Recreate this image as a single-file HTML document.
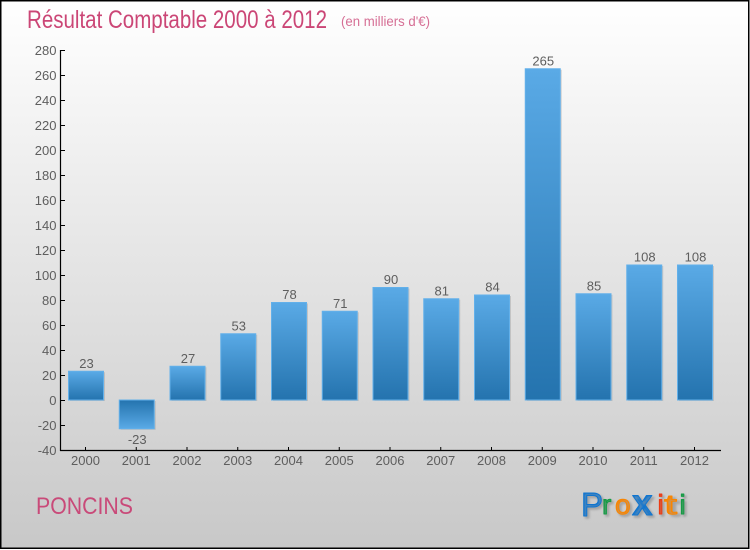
<!DOCTYPE html>
<html>
<head>
<meta charset="utf-8">
<style>
html,body{margin:0;padding:0;width:750px;height:550px;overflow:hidden}
svg{display:block}
text{font-family:"Liberation Sans","DejaVu Sans",sans-serif}
</style>
</head>
<body>
<svg id="chart" width="750" height="550" viewBox="0 0 750 550" xmlns="http://www.w3.org/2000/svg">
<defs>
<linearGradient id="bg" x1="0" y1="0" x2="0" y2="1"><stop offset="0" stop-color="#ffffff"/><stop offset="1" stop-color="#c8c8c8"/></linearGradient>
<linearGradient id="barUp" x1="0" y1="0" x2="0" y2="1"><stop offset="0" stop-color="#5aaae6"/><stop offset="1" stop-color="#2473ae"/></linearGradient>
<linearGradient id="barDown" x1="0" y1="0" x2="0" y2="1"><stop offset="0" stop-color="#2473ae"/><stop offset="1" stop-color="#5aaae6"/></linearGradient>
</defs>
<rect x="0.75" y="0.75" width="748" height="547.5" fill="url(#bg)" stroke="#000" stroke-width="1.5"/>
<text x="27" y="28" font-size="25" fill="#cb4676" textLength="300" lengthAdjust="spacingAndGlyphs">Résultat Comptable 2000 à 2012</text>
<text x="341" y="26" font-size="14" fill="#d66f95" textLength="89" lengthAdjust="spacingAndGlyphs">(en milliers d'€)</text>
<g id="plot"></g>
<text x="36" y="514" font-size="24" fill="#c94a79" textLength="97" lengthAdjust="spacingAndGlyphs">PONCINS</text>
<g style="text-shadow:2px 2px 2px #a0a0a0" stroke-width="1" stroke-linejoin="round">
<text x="581" y="516" font-size="33" fill="#0f75d0" stroke="#0f75d0">P</text>
<text x="602" y="514" font-size="28" fill="#149b44" stroke="#149b44">r</text>
<text x="615" y="514" font-size="28" fill="#f98500" stroke="#f98500">o</text>
<text x="632" y="515" font-size="37" font-weight="bold" fill="#0f75d0" stroke="#0f75d0">x</text>
<text x="657.5" y="514" font-size="28" fill="#ee3a12" stroke="#ee3a12">i</text>
<text x="664" y="514" font-size="28" fill="#f98500" stroke="#f98500" textLength="13" lengthAdjust="spacingAndGlyphs">t</text>
<text x="679.5" y="514" font-size="28" fill="#149b44" stroke="#149b44">i</text>
</g>
</svg>
<script>
var categories = ['2000','2001','2002','2003','2004','2005','2006','2007','2008','2009','2010','2011','2012'];
var values = [23,-23,27,53,78,71,90,81,84,265,85,108,108];
var valueLabels = ['23','-23','27','53','78','71','90','81','84','265','85','108','108'];
var yTicks = [280,260,240,220,200,180,160,140,120,100,80,60,40,20,0,-20,-40];

var NS = 'http://www.w3.org/2000/svg';
var plot = document.getElementById('plot');
function yScale(v){ return 400 - v * 1.25; }
function xCenter(i){ return 86 + i * 50.75; }
function make(tag, attrs, parent){
  var el = document.createElementNS(NS, tag);
  for (var k in attrs) el.setAttribute(k, attrs[k]);
  (parent || plot).appendChild(el);
  return el;
}
values.forEach(function(v, i){
  var cx = xCenter(i), top = Math.min(yScale(v), yScale(0)), h = Math.abs(yScale(v) - yScale(0));
  var shadow = make('rect', {x: cx - 17.5 + 1.5, y: top + 1, width: 35, height: h, fill: '#8f8f8f', opacity: 0.35});
  
  
  var bar = make('rect', {x: cx - 17.5, y: top, width: 35, height: h, fill: v >= 0 ? 'url(#barUp)' : 'url(#barDown)', stroke: '#62b0ea', 'stroke-width': 1});
  
  
  var labelY = v >= 0 ? yScale(v) - 3.5 : yScale(v) + 15;
  var lab = make('text', {x: cx + 0.5, y: labelY, 'font-size': 13, fill: '#5e5e5e', 'text-anchor': 'middle'});
  lab.textContent = valueLabels[i];
  
  
});
var yAxis = make('line', {x1: 60.5, y1: 50, x2: 60.5, y2: 451, stroke: '#000', 'stroke-width': 1.2});


var xAxis = make('line', {x1: 60, y1: 450.5, x2: 721, y2: 450.5, stroke: '#000', 'stroke-width': 1.2});


yTicks.forEach(function(t){
  var y = yScale(t);
  var tick = make('line', {x1: 60, y1: y + 0.5, x2: 65, y2: y + 0.5, stroke: '#000', 'stroke-width': 1});
  
  
  var lab = make('text', {x: 56.5, y: y + 5, 'font-size': 13, fill: '#5e5e5e', 'text-anchor': 'end'});
  lab.textContent = String(t);
  
  
});
categories.forEach(function(c, i){
  var cx = xCenter(i);
  var tick = make('line', {x1: cx - 0.5, y1: 447, x2: cx - 0.5, y2: 451, stroke: '#000', 'stroke-width': 1});
  
  
  var lab = make('text', {x: cx - 0.5, y: 465, 'font-size': 13, fill: '#5e5e5e', 'text-anchor': 'middle'});
  lab.textContent = c;
  
  
});
</script>
</body>
</html>
